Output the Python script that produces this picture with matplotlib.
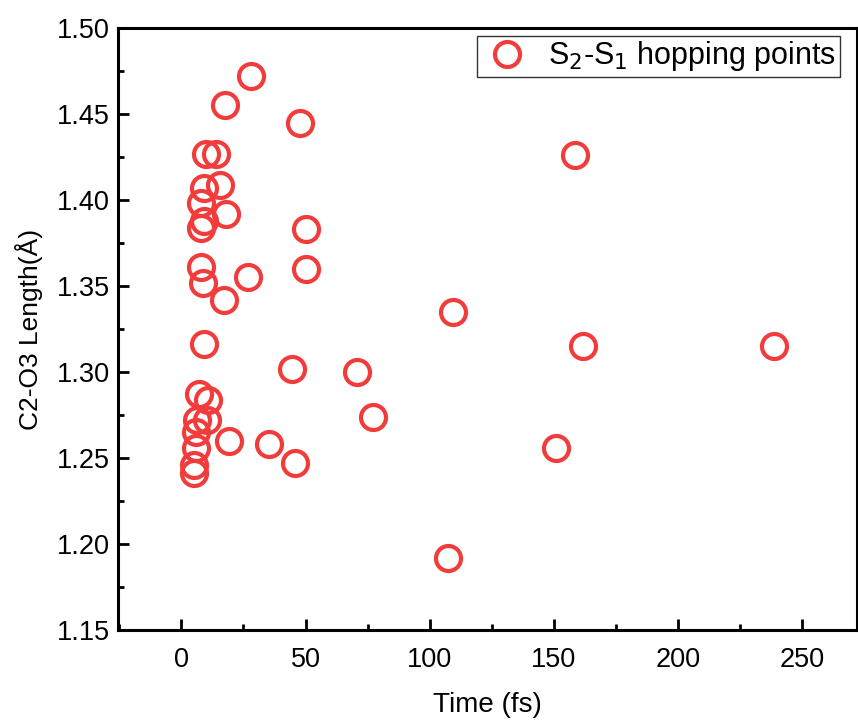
import matplotlib.pyplot as plt
from matplotlib.ticker import MultipleLocator, FormatStrFormatter

# S2-S1 hopping points: time (fs) and C2-O3 bond length (Angstrom)
time_fs = [28.1, 17.7, 47.8, 158.6,
           10.0, 14.1, 9.2, 8.0, 15.7, 18.1, 9.2, 8.0,
           50.2, 50.2, 8.0, 8.8, 26.9, 17.3, 109.2,
           9.2, 161.8, 238.6, 44.6, 70.7,
           7.2, 10.8, 10.4, 6.4, 6.0, 77.1,
           19.3, 35.3, 6.0, 151.0, 45.8, 5.2, 5.2, 107.2]
length_A = [1.472, 1.455, 1.445, 1.426,
            1.427, 1.427, 1.407, 1.398, 1.409, 1.392, 1.388, 1.384,
            1.383, 1.360, 1.361, 1.352, 1.355, 1.342, 1.335,
            1.316, 1.315, 1.315, 1.302, 1.300,
            1.287, 1.284, 1.272, 1.272, 1.265, 1.274,
            1.260, 1.258, 1.256, 1.256, 1.247, 1.246, 1.241, 1.192]

plt.rcParams['font.family'] = ['Liberation Sans', 'DejaVu Sans']

fig = plt.figure(figsize=(8.58, 7.2), dpi=100)
ax = fig.add_axes([118/858, 90/720, 739/858, 602/720])

rouge = '#F23B3B'
ax.plot(time_fs, length_A, 'o', linestyle='none', markersize=18,
        markerfacecolor='none', markeredgecolor=rouge, markeredgewidth=3,
        label='S$_2$-S$_1$ hopping points')

ax.set_xlim(-25.5, 272)
ax.set_ylim(1.15, 1.50)
ax.xaxis.set_major_locator(MultipleLocator(50))
ax.xaxis.set_minor_locator(MultipleLocator(25))
ax.yaxis.set_major_locator(MultipleLocator(0.05))
ax.yaxis.set_minor_locator(MultipleLocator(0.025))
ax.yaxis.set_major_formatter(FormatStrFormatter('%.2f'))

for s in ax.spines.values():
    s.set_linewidth(2.2)
ax.tick_params(which='both', direction='in', width=2, labelsize=19.5,
               top=False, right=False)
ax.tick_params(which='major', length=8)
ax.tick_params(which='minor', length=4)
ax.tick_params(axis='x', pad=12)
ax.tick_params(axis='y', pad=6)

ax.set_xlabel('Time (fs)', fontsize=20, labelpad=14)
ax.set_ylabel('C2-O3 Length(Å)', fontsize=19, labelpad=10)

leg = ax.legend(loc='upper right', fontsize=22, frameon=True, fancybox=False,
                borderpad=0.12, handletextpad=0.5, handlelength=1.7,
                borderaxespad=0, bbox_to_anchor=(0.977, 0.987))
leg.get_frame().set_edgecolor('black')
leg.get_frame().set_linewidth(1.0)

plt.savefig('out.png', dpi=100)
